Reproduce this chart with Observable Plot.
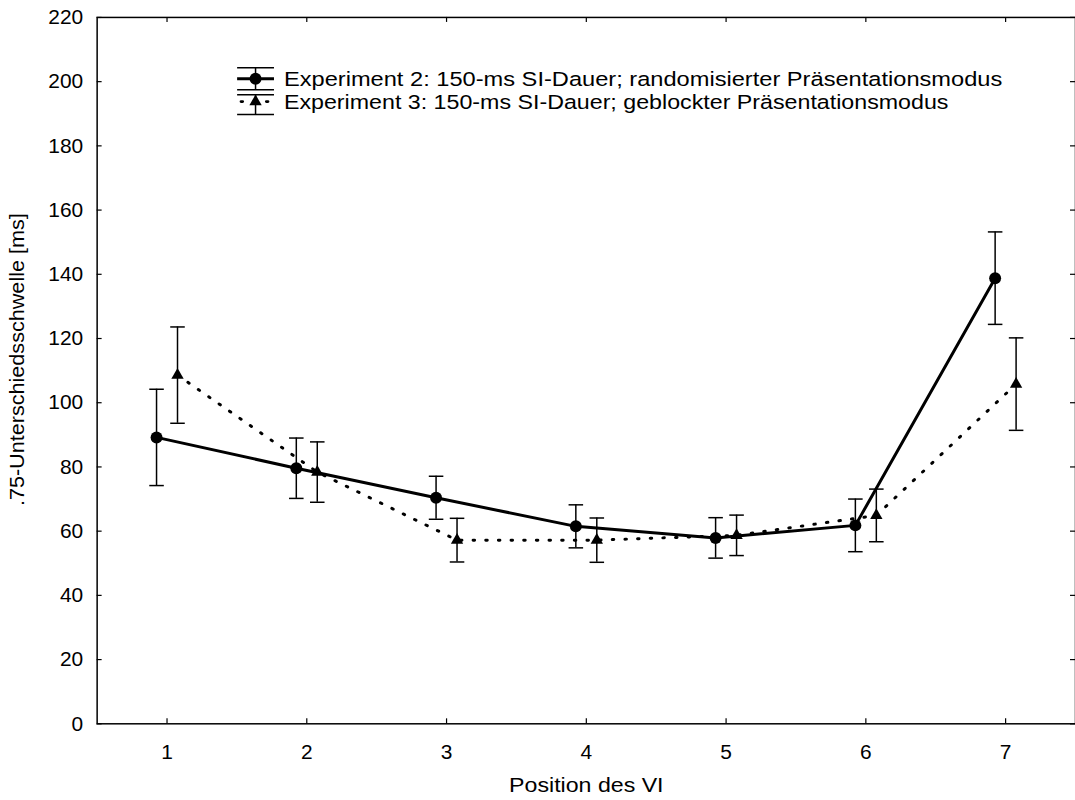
<!DOCTYPE html>
<html>
<head>
<meta charset="utf-8">
<script src="https://cdn.jsdelivr.net/npm/d3@7"></script>
<script src="https://cdn.jsdelivr.net/npm/@observablehq/plot@0.6"></script>
<style>
  html, body { margin: 0; padding: 0; background: #fff; overflow: hidden; }
  #chart svg { display: block; }
</style>
</head>
<body>
<div id="chart"></div>
<script>
// Position des VI (1–7)
const positions = [1, 2, 3, 4, 5, 6, 7];

// Experiment 2: randomisierter Präsentationsmodus – Mittelwerte und Fehlerbalken (±)
const exp2Mean = [89.2, 79.6, 70.4, 61.5, 57.9, 61.8, 138.8];
const exp2Err  = [15.0,  9.4,  6.7,  6.7,  6.3,  8.2,  14.4];

// Experiment 3: geblockter Präsentationsmodus – Mittelwerte und Fehlerbalken (±)
const exp3Mean = [108.6, 78.4, 57.2, 57.2, 58.7, 64.9, 105.8];
const exp3Err  = [ 15.0,  9.4,  6.8,  6.9,  6.3,  8.2,  14.4];

const seriesLabels = [
  "Experiment 2: 150-ms SI-Dauer; randomisierter Präsentationsmodus",
  "Experiment 3: 150-ms SI-Dauer; geblockter Präsentationsmodus"
];
const xTicks = [1, 2, 3, 4, 5, 6, 7];
const yTicks = [0, 20, 40, 60, 80, 100, 120, 140, 160, 180, 200, 220];
const xLabel = "Position des VI";
const yLabel = ".75-Unterschiedsschwelle [ms]";

// horizontal offset so the two series sit side by side at each position
const shift = 0.075;

const exp2 = positions.map((p, i) => ({x: p - shift, y: exp2Mean[i], lo: exp2Mean[i] - exp2Err[i], hi: exp2Mean[i] + exp2Err[i]}));
const exp3 = positions.map((p, i) => ({x: p + shift, y: exp3Mean[i], lo: exp3Mean[i] - exp3Err[i], hi: exp3Mean[i] + exp3Err[i]}));

// flat horizontal symbol used for the error-bar caps
const capSymbol = {
  draw(context, size) {
    const w = Math.sqrt(size / Math.PI);
    context.moveTo(-w, 0);
    context.lineTo(w, 0);
  }
};

const W = 1079, H = 800;
const mTop = 17, mBottom = 74, mLeft = 97, mRight = 0;
const plotH = H - mTop - mBottom;
const plotW = W - mLeft - mRight;
const font = "Arial, 'Liberation Sans', Helvetica, sans-serif";
const fs = 21;

function errorMarks(data) {
  return [
    Plot.ruleX(data, {x: "x", y1: "lo", y2: "hi", stroke: "#000", strokeWidth: 1.5}),
    Plot.dot(data, {x: "x", y: "lo", symbol: capSymbol, r: 7.3, stroke: "#000", strokeWidth: 1.5, fill: "none"}),
    Plot.dot(data, {x: "x", y: "hi", symbol: capSymbol, r: 7.3, stroke: "#000", strokeWidth: 1.5, fill: "none"})
  ];
}

const chart = Plot.plot({
  width: W,
  height: H,
  marginTop: mTop,
  marginBottom: mBottom,
  marginLeft: mLeft,
  marginRight: mRight,
  style: {fontFamily: font, fontSize: fs + "px", color: "#000", background: "#fff"},
  x: {domain: [0.5, 7.5]},
  y: {domain: [0, 220]},
  marks: [
    // lines
    Plot.line(exp3, {x: "x", y: "y", stroke: "#000", strokeWidth: 3, strokeDasharray: "1.5,11.2", strokeLinecap: "round"}),
    Plot.line(exp2, {x: "x", y: "y", stroke: "#000", strokeWidth: 3}),
    // error bars
    ...errorMarks(exp2),
    ...errorMarks(exp3),
    // markers
    Plot.dot(exp2, {x: "x", y: "y", r: 6, fill: "#000", stroke: "none"}),
    Plot.dot(exp3, {x: "x", y: "y", symbol: "triangle", r: 4.6, fill: "#000", stroke: "none"}),
    // inward ticks on all four sides
    Plot.tickX(xTicks, {x: d => d, insetTop: plotH - 5, stroke: "#000", strokeWidth: 1.2}),
    Plot.tickX(xTicks, {x: d => d, insetBottom: plotH - 5, stroke: "#000", strokeWidth: 1.2}),
    Plot.tickY(yTicks, {y: d => d, insetRight: plotW - 5, stroke: "#000", strokeWidth: 1.2}),
    Plot.tickY(yTicks, {y: d => d, insetLeft: plotW - 5, stroke: "#000", strokeWidth: 1.2}),
    Plot.frame({stroke: "#000", strokeWidth: 1.5}),
    // tick labels
    Plot.axisX(xTicks, {tickSize: 0, tickPadding: 20, fontSize: fs, tickFormat: d3.format("d"), label: null}),
    Plot.axisY(yTicks, {tickSize: 0, tickPadding: 14, fontSize: fs, tickFormat: d3.format("d"), label: null}),
    // axis titles
    Plot.text([xLabel], {text: d => d, frameAnchor: "bottom", dy: 62, fontSize: fs, textAnchor: "middle", lineAnchor: "middle", fill: "#000"}),
    Plot.text([yLabel], {text: d => d, frameAnchor: "left", dx: -80, dy: -11, rotate: -90, fontSize: fs, textAnchor: "middle", lineAnchor: "middle", fill: "#000"})
  ]
});

document.getElementById("chart").appendChild(chart);

const svg = d3.select(chart);

// widen the axis titles slightly to the face's wider set width
svg.selectAll("text").filter(function() { return this.textContent === xLabel; })
  .attr("textLength", 155).attr("lengthAdjust", "spacingAndGlyphs");
svg.selectAll("text").filter(function() { return this.textContent === yLabel; })
  .attr("textLength", 294).attr("lengthAdjust", "spacingAndGlyphs");

// legend in the upper part of the plot area
const lg = svg.append("g").attr("stroke", "#000").attr("fill", "#000");
const rows = [
  {y: 79, cap1: 68, cap2: 90, dash: null, symbol: d3.symbolCircle, size: Math.PI * 36, len: 721},
  {y: 102, cap1: 95, cap2: 115, dash: "1.5,11.2", symbol: d3.symbolTriangle, size: Math.PI * 4.6 * 4.6, len: 667}
];
const x0 = 238, x1 = 275, xc = 256.5;
rows.forEach((r, i) => {
  const g = lg.append("g");
  g.append("line").attr("x1", x0).attr("x2", x1).attr("y1", r.y).attr("y2", r.y)
    .attr("stroke-width", 3).attr("stroke-linecap", r.dash ? "round" : "butt")
    .attr("stroke-dasharray", r.dash)
    .attr("stroke-dashoffset", r.dash ? -4 : null);
  g.append("line").attr("x1", xc).attr("x2", xc).attr("y1", r.cap1).attr("y2", r.cap2).attr("stroke-width", 1.5);
  [r.cap1, r.cap2].forEach(cy => g.append("line").attr("x1", x0).attr("x2", x1).attr("y1", cy).attr("y2", cy).attr("stroke-width", 1.5));
  g.append("path").attr("d", d3.symbol(r.symbol, r.size)()).attr("transform", `translate(${xc},${r.y})`).attr("stroke", "none");
  g.append("text").attr("x", 285).attr("y", r.y).attr("dy", "0.35em").attr("stroke", "none")
    .attr("text-anchor", "start")
    .attr("textLength", r.len).attr("lengthAdjust", "spacingAndGlyphs")
    .attr("font-size", fs).attr("font-family", font).text(seriesLabels[i]);
});
</script>
</body>
</html>
